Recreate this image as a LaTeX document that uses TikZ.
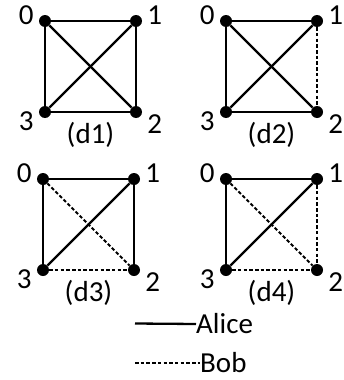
\documentclass[tikz,border=0pt]{standalone}
\usepackage{fontspec}
\setmainfont{Carlito}
\usetikzlibrary{positioning}

\begin{document}
\begin{tikzpicture}[x=1pt,y=-1pt,every node/.style={font=\fontsize{29}{34}\selectfont},
  vtx/.style={circle,fill=black,inner sep=0pt,minimum size=12pt},
  lbl/.style={inner sep=0pt},
  alice/.style={line width=2.3pt},
  bob/.style={line width=2pt,dash pattern=on 3.5pt off 2.2pt}]
  \useasboundingbox (0,0) rectangle (344,380);
  % one panel per distribution, 1 = dashed (Bob)
  \foreach \g/\x/\y/\edges in {1/45/21/{0/1/0,1/2/0,3/2/0,0/3/0,0/2/0,1/3/0},
                               2/226/21/{0/1/0,1/2/1,3/2/0,0/3/0,0/2/0,1/3/0},
                               3/43/179/{0/1/0,1/2/0,3/2/1,0/3/0,0/2/1,1/3/0},
                               4/226/179/{0/1/0,1/2/1,3/2/1,0/3/0,0/2/1,1/3/0}}{
    \node[vtx] (d\g-0) at (\x,\y) {};
    \node[vtx] (d\g-1) at (\x+91,\y) {};
    \node[vtx] (d\g-2) at (\x+91,\y+91) {};
    \node[vtx] (d\g-3) at (\x,\y+91) {};
    \node[lbl,left=5pt of d\g-0,yshift=6pt] (n\g-0) {0};
    \node[lbl,right=5pt of d\g-1,yshift=6pt] (n\g-1) {1};
    \node[lbl,right=5pt of d\g-2,yshift=-12pt] (n\g-2) {2};
    \node[lbl,left=5pt of d\g-3,yshift=-9pt] (n\g-3) {3};
    \node[lbl] (cap\g) at (\x+45.5,\y+114) {(d\g)};
    \foreach \a/\b/\d in \edges{
      \ifnum\d=1
        \draw[bob] (d\g-\a) -- (d\g-\b);
      \else
        \draw[alice] (d\g-\a) -- (d\g-\b);
      \fi
    }
  }
  % legend
  \coordinate (la) at (135,323.5);
  \coordinate (lb) at (135,362.5);
  \node[lbl,anchor=west] (alice) at (196,324) {Alice};
  \node[lbl,anchor=west] (bob) at (200,362.5) {Bob};
  \draw[alice] (la) -- (alice.west);
  \draw[bob] (lb) -- (bob.west);
\end{tikzpicture}
\end{document}
